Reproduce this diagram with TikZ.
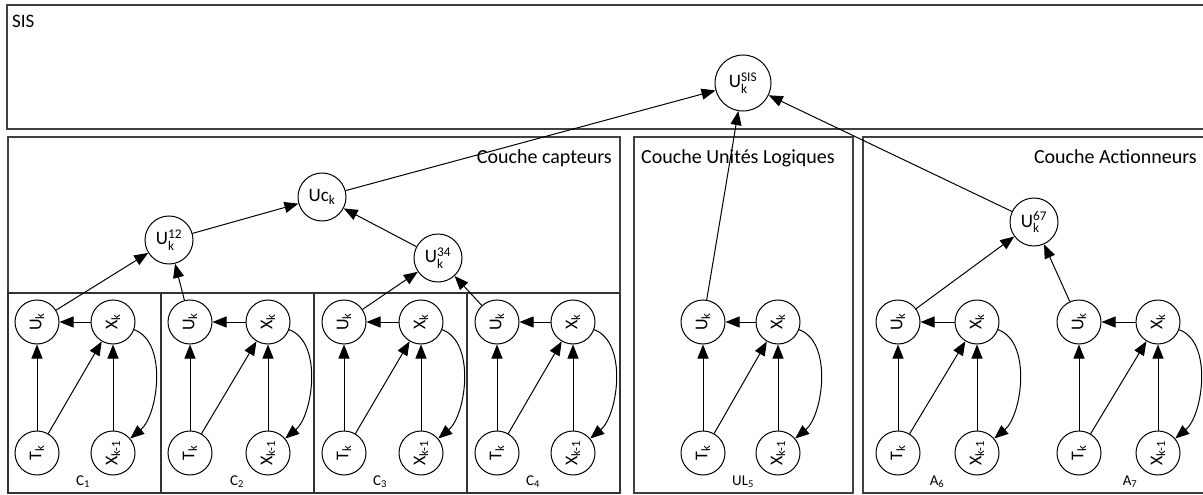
\documentclass[tikz,border=0pt]{standalone}
\usepackage{fontspec}
\setmainfont{Carlito}
\usepackage{amsmath}
\usepackage{graphicx}
\usetikzlibrary{arrows.meta}
\tikzset{
 layerbox/.style={draw=black!75, line width=1.5pt},
 cellbox/.style={draw=black!80, line width=1.2pt},
 smallc/.style={circle, draw, line width=1pt, minimum size=44pt, inner sep=0pt, font=\fontsize{18}{20}\selectfont},
 midc/.style={circle, draw, line width=1pt, minimum size=48pt, inner sep=0pt, font=\fontsize{19}{21}\selectfont},
 topc/.style={midc, minimum size=56pt},
 arr/.style={-{Triangle[length=14pt,width=11pt]}, line width=1pt},
 layerlab/.style={font=\fontsize{20}{24}\selectfont, inner sep=0pt},
 celllab/.style={font=\fontsize{15}{17}\selectfont, inner sep=0pt},
}
\begin{document}
\begin{tikzpicture}[x=1pt,y=1pt]
\useasboundingbox (0,0) rectangle (1203,-495);
\fill[white] (0,0) rectangle (1203,-495);
% boxes
\draw[layerbox] (7,-5) rectangle (1206,-129);
\draw[layerbox] (8,-137) rectangle (620,-493);
\draw[layerbox] (634,-137) rectangle (853,-493);
\draw[layerbox] (863,-137) rectangle (1206,-493);
\foreach \a/\b in {8/161,161/314,314/467,467/620}
  \draw[cellbox] (\a,-293) rectangle (\b,-493);
% layer labels
\node[layerlab, anchor=base west, font=\fontsize{19}{22}\selectfont] (lsis) at (12,-28) {SIS};
\node[layerlab, anchor=base east] (lcap) at (612,-163) {Couche capteurs};
\node[layerlab, anchor=base west] (lul) at (641,-163) {Couche Unités Logiques};
\node[layerlab, anchor=base east] (lact) at (1197,-163) {Couche Actionneurs};
% cells
\foreach \n/\ux/\xx/\lx/\lab in {c1/37/113/83/{C\textsubscript{1}}, c2/190/268/237/{C\textsubscript{2}}, c3/344/421/380/{C\textsubscript{3}}, c4/497/573/533/{C\textsubscript{4}}, ul/703/778/743/{UL\textsubscript{5}}, a6/898/977/937/{A\textsubscript{6}}, a7/1079/1158/1130/{A\textsubscript{7}}} {
  \node[smallc] (\n u) at (\ux,-322) {\rotatebox{90}{U\textsubscript{k}}};
  \node[smallc] (\n x) at (\xx,-322) {\rotatebox{90}{X\textsubscript{k}}};
  \node[smallc] (\n t) at (\ux,-453) {\rotatebox{90}{T\textsubscript{k}}};
  \node[smallc] (\n p) at (\xx,-453) {\rotatebox{90}{X\textsubscript{k-1}}};
  \node[celllab] (\n l) at (\lx,-482) {\lab};
  \draw[arr] (\n x) -- (\n u);
  \draw[arr] (\n t) -- (\n u);
  \draw[arr] (\n t) -- (\n x);
  \draw[arr] (\n p) -- (\n x);
  \draw[arr] (\n x) to[out=-20,in=40,looseness=0.85] (\n p);
}
% aggregation nodes
\node[midc] (u12) at (169,-240) {$\text{U}^{\text{12}}_{\text{k}}$};
\node[midc] (u34) at (438,-258) {$\text{U}^{\text{34}}_{\text{k}}$};
\node[midc] (uc) at (322,-197) {Uc\textsubscript{k}};
\node[midc] (u67) at (1034,-222) {$\text{U}^{\text{67}}_{\text{k}}$};
\node[topc] (usis) at (743,-83) {$\text{U}^{\text{SIS}}_{\text{k}}$};
\draw[arr] (c1u) -- (u12);
\draw[arr] (c2u) -- (u12);
\draw[arr] (c3u) -- (u34);
\draw[arr] (c4u) -- (u34);
\draw[arr] (u12) -- (uc);
\draw[arr] (u34) -- (uc);
\draw[arr] (uc) -- (usis);
\draw[arr] (ulu) -- (usis);
\draw[arr] (a6u) -- (u67);
\draw[arr] (a7u) -- (u67);
\draw[arr] (u67) -- (usis);
\end{tikzpicture}
\end{document}
